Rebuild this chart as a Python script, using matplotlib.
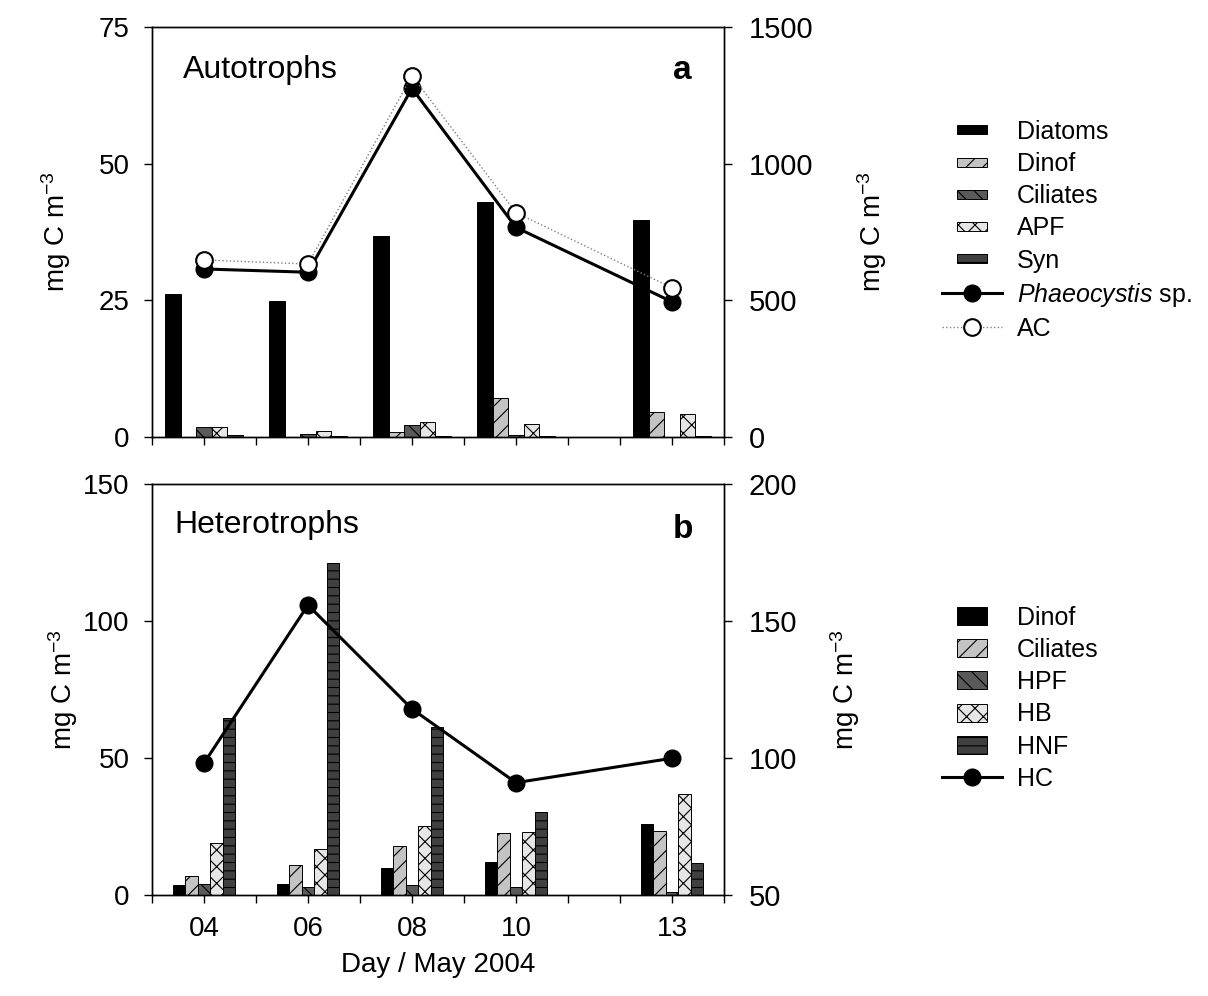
import matplotlib
matplotlib.use('Agg')
import matplotlib.pyplot as plt
from matplotlib.patches import Rectangle
from matplotlib.legend_handler import HandlerPatch

plt.rcParams['font.family'] = ['Liberation Sans', 'DejaVu Sans']
plt.rcParams['mathtext.fontset'] = 'custom'
plt.rcParams['mathtext.rm'] = 'Liberation Sans'
plt.rcParams['mathtext.it'] = 'Liberation Sans:italic'
plt.rcParams['hatch.linewidth'] = 0.8

# sampling days (May 2004)
days = [4, 6, 8, 10, 13]
day_labels = ['04', '06', '08', '10', '13']

# autotrophs (left axis, mg C m-3)
auto_names = ['Diatoms', 'Dinof', 'Ciliates', 'APF', 'Syn']
diatoms = [26.1, 24.9, 36.8, 43.0, 39.7]
auto_dinof = [0.0, 0.0, 1.0, 7.2, 4.6]
auto_ciliates = [1.9, 0.5, 2.2, 0.4, 0.0]
apf = [1.9, 1.1, 2.7, 2.3, 4.3]
syn = [0.3, 0.1, 0.2, 0.1, 0.1]
# right axis
phaeocystis = [615, 603, 1276, 767, 495]
ac = [648, 633, 1322, 821, 546]

# heterotrophs (left axis)
het_names = ['Dinof', 'Ciliates', 'HPF', 'HB', 'HNF']
het_dinof = [3.6, 4.0, 10.0, 12.0, 25.9]
het_ciliates = [6.9, 10.8, 18.0, 22.7, 23.5]
hpf = [3.9, 2.9, 3.5, 2.8, 1.2]
hb = [19.0, 16.7, 25.1, 22.9, 36.9]
hnf = [64.5, 121.0, 61.2, 30.2, 11.8]
# right axis
hc = [98.1, 155.8, 117.9, 91.0, 99.9]

# fill colour and hatch for the five bar series
bar_styles = [('black', ''), ('#c4c4c4', '//'), ('#5a5a5a', '\\\\'),
              ('#e6e6e6', 'xx'), ('#404040', '--')]


def draw_bars(ax, series, names, width):
    handles = []
    for i, (vals, name) in enumerate(zip(series, names)):
        color, hatch = bar_styles[i]
        xs = [d + (i - 2) * width for d in days]
        bars = ax.bar(xs, vals, width=width, color=color, hatch=hatch,
                      edgecolor='black', linewidth=0.7, label=name)
        handles.append(bars.patches[0])
    return handles


def style_axes(ax, axr):
    ax.set_xlim(3, 14)
    ax.set_xticks(days)
    ax.set_xticks([d for d in range(3, 15) if d not in days], minor=True)
    ax.tick_params(axis='x', which='both', direction='out', length=6, width=1,
                   labelsize=20, pad=9)
    ax.tick_params(axis='y', direction='out', length=6, width=1, labelsize=20, pad=10)
    axr.tick_params(axis='y', direction='out', length=6, width=1, labelsize=21, pad=12)
    for a in (ax, axr):
        for s in a.spines.values():
            s.set_linewidth(1)


def make_patch(h_pt):
    def f(legend, orig_handle, xdescent, ydescent, width, height, fontsize):
        return Rectangle((-xdescent + width * 0.25, -ydescent + (height - h_pt) / 2),
                         width * 0.5, h_pt)
    return f


fig = plt.figure(figsize=(12.08, 9.96), dpi=100)
ax1 = fig.add_axes([0.1258, 0.5612, 0.4735, 0.4116])
ax2 = fig.add_axes([0.1258, 0.1014, 0.4735, 0.4127])

# panel a
bh1 = draw_bars(ax1, [diatoms, auto_dinof, auto_ciliates, apf, syn], auto_names, 0.3)
ax1.set_ylim(0, 75)
ax1.set_yticks([0, 25, 50, 75])
ax1r = ax1.twinx()
l_ph, = ax1r.plot(days, phaeocystis, '-o', color='black', lw=2.2, ms=12)
l_ac, = ax1r.plot(days, ac, ':o', color='gray', lw=1, ms=12, mfc='white', mec='black',
                  mew=1.5)
ax1r.set_ylim(0, 1500)
ax1r.set_yticks([0, 500, 1000, 1500])
style_axes(ax1, ax1r)
ax1.set_xticklabels([])
ax1.set_ylabel('mg C m$^{-3}$', fontsize=20)
ax1.yaxis.set_label_coords(-0.138, 0.5)
ax1r.set_ylabel('mg C m$^{-3}$', fontsize=20)
ax1r.yaxis.set_label_coords(1.229, 0.5)
ax1.text(0.054, 0.895, 'Autotrophs', transform=ax1.transAxes, fontsize=23, va='center')
ax1.text(0.928, 0.895, 'a', transform=ax1.transAxes, fontsize=24,
         fontweight='bold', va='center', ha='center')

# panel b
bh2 = draw_bars(ax2, [het_dinof, het_ciliates, hpf, hb, hnf], het_names, 0.24)
ax2.set_ylim(0, 150)
ax2.set_yticks([0, 50, 100, 150])
ax2r = ax2.twinx()
l_hc, = ax2r.plot(days, hc, '-o', color='black', lw=2.2, ms=12)
ax2r.set_ylim(50, 200)
ax2r.set_yticks([50, 100, 150, 200])
style_axes(ax2, ax2r)
ax2.set_xticklabels(day_labels)
ax2.set_xlabel('Day / May 2004', fontsize=20, labelpad=7)
ax2.set_ylabel('mg C m$^{-3}$', fontsize=20)
ax2.yaxis.set_label_coords(-0.126, 0.5)
ax2r.set_ylabel('mg C m$^{-3}$', fontsize=20)
ax2r.yaxis.set_label_coords(1.182, 0.5)
ax2.text(0.04, 0.90, 'Heterotrophs', transform=ax2.transAxes, fontsize=23, va='center')
ax2.text(0.928, 0.89, 'b', transform=ax2.transAxes, fontsize=24,
         fontweight='bold', va='center', ha='center')

# legends
leg_kw = dict(loc='upper left', frameon=False, fontsize=18, borderpad=0, borderaxespad=0,
              handlelength=2.4, handletextpad=0.6, labelspacing=0.33)
fig.legend(bh1 + [l_ph, l_ac], auto_names + ['$\\it{Phaeocystis}$ sp.', 'AC'],
           bbox_to_anchor=(0.7798, 0.880),
           handler_map={Rectangle: HandlerPatch(patch_func=make_patch(6.5))}, **leg_kw)
fig.legend(bh2 + [l_hc], het_names + ['HC'],
           bbox_to_anchor=(0.7798, 0.392),
           handler_map={Rectangle: HandlerPatch(patch_func=make_patch(13))}, **leg_kw)

fig.savefig('out.png', dpi=100)
